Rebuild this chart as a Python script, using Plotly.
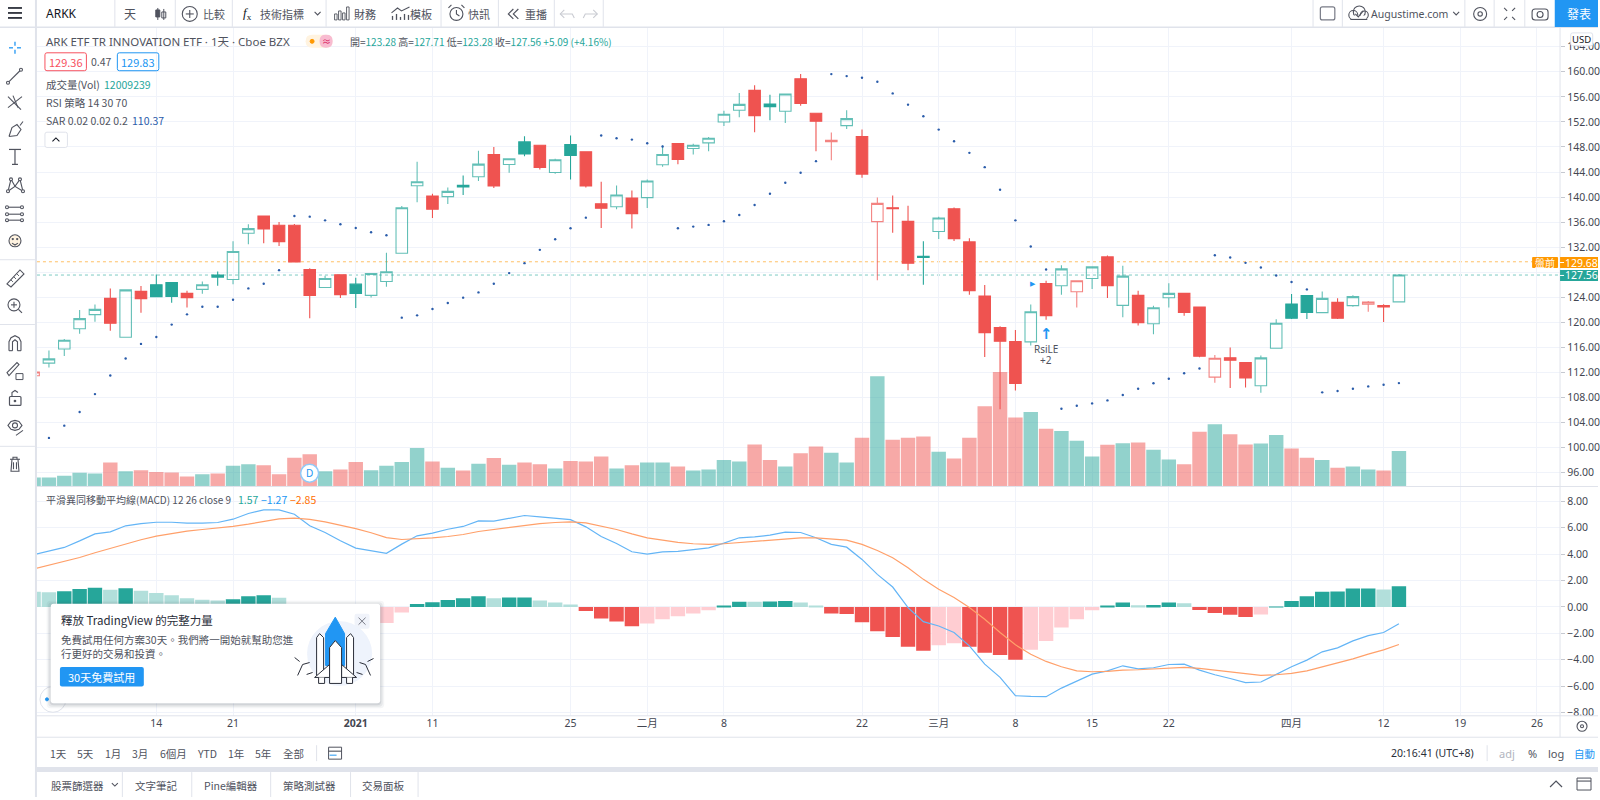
import plotly.graph_objects as go

# values, bar -1 is the clipped one at the left edge
bars = list(range(-1, 89))
opens = [111.5, 113.5, 115.77, 119.0, 121.24, 123.83, 117.63, 124.95, 126.01, 126.38, 124.63, 125.27, 127.55, 126.86, 134.23, 136.98, 135.5, 135.5, 128.45, 125.58,
         127.6, 126.11, 124.31, 126.54, 131.05, 141.81, 140.17, 140.07, 141.87, 143.25, 146.8, 145.21, 148.81, 148.28, 143.93, 148.39, 147.22, 138.95, 138.47, 139.85,
         139.91, 145.16, 148.55, 147.75, 148.65, 151.99, 153.85, 157.03, 154.86, 153.69, 158.89, 153.37, 148.85, 151.41, 149.66, 136.08, 138.31, 136.13, 130.57, 134.5,
         138.15, 132.85, 124.21, 119.17, 116.94, 116.89, 126.22, 125.85, 124.9, 127.02, 130.46, 122.72, 124.31, 119.8, 123.94, 124.63, 122.46, 111.27, 114.35, 113.61,
         109.9, 115.89, 122.94, 124.27, 121.56, 123.2, 122.68, 122.89, 122.68, 123.28]
highs = [112.2, 115.51, 117.37, 122.0, 122.88, 125.43, 125.3, 125.8, 127.65, 126.4, 125.05, 126.54, 128.13, 132.95, 135.66, 137.0, 136.03, 135.71, 128.66, 127.44,
         127.65, 127.12, 127.85, 131.1, 138.57, 145.63, 140.54, 141.55, 143.46, 147.38, 148.0, 146.11, 149.71, 148.3, 146.11, 149.82, 147.25, 142.45, 141.87, 141.07,
         142.82, 148.23, 148.55, 148.5, 149.61, 153.8, 156.61, 157.83, 156.34, 156.45, 159.63, 153.37, 150.3, 153.85, 150.8, 139.95, 140.27, 138.63, 132.95, 136.88,
         138.36, 133.43, 125.96, 119.38, 118.8, 122.88, 126.64, 129.14, 126.64, 128.87, 130.67, 129.03, 125.05, 122.67, 126.27, 124.63, 122.56, 114.82, 116.0, 113.61,
         114.72, 120.5, 124.53, 124.27, 124.95, 123.84, 124.32, 123.42, 122.89, 127.71]
lows = [111.4, 112.8, 114.66, 118.2, 120.12, 118.69, 117.6, 121.55, 124.1, 123.15, 122.4, 124.58, 125.85, 126.1, 132.48, 132.64, 132.21, 129.56, 120.65, 125.48,
        123.89, 122.3, 123.99, 125.69, 131.0, 139.16, 136.67, 138.9, 140.33, 142.56, 141.44, 143.88, 146.53, 144.41, 143.72, 142.82, 141.55, 135.08, 138.05, 134.97,
        138.26, 144.84, 145.26, 146.8, 147.33, 151.36, 152.74, 150.35, 152.26, 151.84, 154.59, 147.33, 145.89, 150.88, 143.08, 126.75, 134.33, 128.34, 126.01, 133.33,
        133.0, 124.42, 114.5, 106.13, 109.15, 116.3, 120.44, 124.42, 122.4, 125.32, 123.89, 120.81, 119.49, 118.11, 122.4, 121.08, 114.45, 110.37, 109.53, 109.63,
        108.78, 115.89, 120.55, 120.55, 121.51, 120.55, 122.52, 121.72, 120.08, 123.28]
closes = [112.1, 114.18, 117.15, 120.6, 122.09, 119.86, 125.2, 123.78, 124.12, 124.15, 123.94, 126.01, 127.23, 131.31, 134.97, 134.92, 132.9, 129.67, 124.31, 127.02,
          124.42, 124.63, 127.81, 128.08, 138.31, 142.45, 138.05, 140.91, 141.6, 145.26, 141.76, 146.11, 146.9, 144.73, 145.95, 146.64, 141.76, 138.21, 140.33, 137.36,
          142.56, 146.8, 146.0, 148.28, 149.4, 153.21, 154.8, 153.0, 154.43, 156.45, 154.96, 152.1, 149.05, 152.52, 143.67, 139.0, 138.15, 129.45, 130.36, 136.67,
          133.38, 125.05, 118.37, 117.0, 110.26, 121.71, 121.08, 128.55, 126.64, 128.87, 125.85, 127.39, 119.96, 122.35, 124.63, 121.61, 114.61, 114.29, 113.98, 111.12,
          114.35, 119.87, 120.66, 121.61, 123.84, 120.66, 124.11, 123.26, 122.46, 127.56]
volumes = [3.0, 3.0, 3.6, 4.6, 4.4, 8.1, 5.1, 5.5, 4.9, 4.7, 3.4, 4.1, 4.4, 7.0, 7.5, 7.2, 4.1, 9.7, 10.9, 5.1,
           5.7, 8.3, 5.5, 7.0, 8.3, 13.0, 8.4, 6.3, 5.4, 7.7, 9.6, 7.3, 8.1, 7.5, 6.1, 8.6, 8.4, 10.1, 6.1, 7.2,
           8.1, 8.1, 6.7, 5.4, 5.7, 8.9, 8.4, 14.2, 8.9, 6.7, 11.2, 13.5, 11.4, 8.1, 16.4, 37.2, 15.8, 16.4, 16.9, 11.7,
           9.4, 16.4, 27.1, 38.6, 23.3, 25.1, 19.5, 18.7, 15.4, 10.1, 14.1, 14.6, 14.8, 12.4, 9.1, 7.5, 18.5, 21.0, 17.6, 14.2,
           14.5, 17.4, 12.8, 9.7, 8.9, 6.3, 6.7, 5.7, 5.4, 12.01]
sar_bars = bars[1:]
sar = [101.57, 103.53, 105.7, 108.56, 111.53, 114.24, 116.57, 117.68, 119.65, 121.29, 122.51, 122.51, 123.62, 125.43, 126.17, 128.34, 136.98, 136.88, 136.29, 135.66,
       135.08, 134.39, 133.91, 120.76, 121.13, 122.14, 123.1, 123.95, 124.79, 126.17, 127.87, 129.46, 131.58, 133.28, 135.03, 136.72, 149.82, 149.4, 149.18, 148.6,
       148.07, 135.03, 135.29, 135.56, 136.14, 137.15, 138.74, 140.54, 142.29, 143.88, 145.74, 159.63, 159.31, 159.05, 158.41, 156.55, 154.75, 152.9, 150.77, 148.91,
       147.06, 144.78, 141.17, 136.29, 132.11, 128.45, 106.23, 106.71, 107.08, 107.56, 108.41, 109.41, 110.3, 111.0, 111.88, 112.65, 130.73, 130.36, 129.51, 128.77,
       127.5, 126.44, 125.27, 108.84, 109.05, 109.42, 109.79, 110.06, 110.32]
macd = [3.95, 4.21, 4.51, 5.01, 5.54, 5.69, 6.15, 6.32, 6.42, 6.42, 6.35, 6.35, 6.4, 6.65, 7.08, 7.36, 7.36, 7.03, 6.15, 5.64,
        5.01, 4.46, 4.26, 4.06, 4.76, 5.39, 5.59, 5.89, 6.1, 6.52, 6.5, 6.7, 6.93, 6.83, 6.73, 6.62, 6.07, 5.34, 4.81, 4.18,
        4.01, 4.18, 4.21, 4.33, 4.48, 4.84, 5.24, 5.31, 5.44, 5.67, 5.64, 5.24, 4.74, 4.53, 3.6, 2.47, 1.51, -0.05, -1.11, -1.44,
        -1.94, -2.95, -4.33, -5.34, -6.73, -6.78, -6.8, -6.15, -5.64, -5.09, -4.84, -4.46, -4.69, -4.61, -4.36, -4.33, -4.79, -5.14, -5.42, -5.74,
        -5.69, -5.09, -4.53, -4.03, -3.4, -3.1, -2.57, -2.17, -1.94, -1.27]
signal = [2.87, 3.15, 3.45, 3.75, 4.11, 4.43, 4.79, 5.09, 5.37, 5.57, 5.74, 5.87, 5.97, 6.1, 6.27, 6.5, 6.68, 6.73, 6.63, 6.45,
          6.2, 5.94, 5.62, 5.26, 5.11, 5.16, 5.24, 5.34, 5.49, 5.72, 5.87, 6.05, 6.22, 6.32, 6.4, 6.45, 6.37, 6.12, 5.87, 5.54,
          5.24, 5.06, 4.89, 4.79, 4.74, 4.79, 4.89, 4.96, 5.06, 5.16, 5.24, 5.24, 5.16, 5.06, 4.74, 4.28, 3.73, 2.97, 2.09, 1.34,
          0.71, -0.05, -0.93, -1.94, -2.87, -3.58, -4.13, -4.53, -4.84, -4.91, -4.89, -4.79, -4.76, -4.71, -4.63, -4.58, -4.66, -4.79, -4.91, -5.06,
          -5.19, -5.14, -5.04, -4.84, -4.53, -4.26, -3.93, -3.58, -3.25, -2.85]
hist = [1.15, 1.11, 1.18, 1.36, 1.46, 1.31, 1.41, 1.23, 1.06, 0.88, 0.65, 0.55, 0.48, 0.58, 0.81, 0.88, 0.7, 0.2, -0.48, -0.81,
        -1.19, -1.48, -1.36, -1.21, -0.43, 0.23, 0.35, 0.53, 0.65, 0.81, 0.65, 0.71, 0.72, 0.48, 0.33, 0.18, -0.3, -0.88, -1.11, -1.46,
        -1.26, -0.93, -0.71, -0.5, -0.25, 0.1, 0.4, 0.39, 0.41, 0.45, 0.33, 0.05, -0.5, -0.53, -1.16, -1.84, -2.27, -3.02, -3.32, -2.9,
        -2.75, -3.02, -3.48, -3.65, -4.01, -3.25, -2.59, -1.56, -0.93, -0.25, 0.08, 0.33, 0.13, 0.14, 0.33, 0.28, -0.23, -0.45, -0.6, -0.76,
        -0.58, 0.03, 0.45, 0.81, 1.16, 1.17, 1.39, 1.4, 1.33, 1.57]
date_ticks = [7, 12, 20, 25, 34, 39, 44, 53, 58, 63, 68, 73, 81, 87, 92, 97]
date_labels = ["14", "21", "<b>2021</b>", "11", "25", "二月", "8", "22", "三月", "8", "15", "22", "四月", "12", "19", "26"]
price_ticks = list(range(96, 168, 4))
# 128.00 sits behind the two price tags in the reference
price_labels = ["" if p == 128 else f"{p}.00" for p in price_ticks]
macd_ticks = list(range(-8, 10, 2))
last_price = 127.56
premarket_price = 129.68

GREEN = "#26a69a"
RED = "#ef5350"
BLUE = "#2196f3"
TEXT = "#50535e"
RULE = "#e0e3eb"
FONT = "Noto Sans, Noto Sans CJK TC, sans-serif"
CJK = "Noto Sans CJK TC, Noto Sans, sans-serif"
HOLLOW_EDGE = {GREEN: "rgba(38,166,154,0.72)", RED: "rgba(239,83,80,0.72)"}

shapes = []
notes = []


def fx(x):
    return x / 1600


def fy(y):
    return 1 - y / 800


def rect(x0, y0, x1, y1, fill=None, line=None, width=1, radius=0):
    pts = (f"M{fx(x0+radius)} {fy(y0)} L{fx(x1-radius)} {fy(y0)} Q{fx(x1)} {fy(y0)} {fx(x1)} {fy(y0+radius)} "
           f"L{fx(x1)} {fy(y1-radius)} Q{fx(x1)} {fy(y1)} {fx(x1-radius)} {fy(y1)} L{fx(x0+radius)} {fy(y1)} "
           f"Q{fx(x0)} {fy(y1)} {fx(x0)} {fy(y1-radius)} L{fx(x0)} {fy(y0+radius)} Q{fx(x0)} {fy(y0)} {fx(x0+radius)} {fy(y0)} Z")
    shapes.append(dict(type="path", path=pts, xref="paper", yref="paper", layer="above",
                       fillcolor=fill or "rgba(0,0,0,0)", line=dict(color=line or "rgba(0,0,0,0)", width=width)))


def stroke(pts, color=TEXT, width=1.1, fill=None, closed=False):
    d = "M" + " L".join(f"{fx(x)} {fy(y)}" for x, y in pts) + (" Z" if closed else "")
    shapes.append(dict(type="path", path=d, xref="paper", yref="paper", layer="above",
                       fillcolor=fill or "rgba(0,0,0,0)", line=dict(color=color, width=width)))


def circle(cx, cy, r, color=TEXT, width=1.1, fill=None):
    shapes.append(dict(type="circle", xref="paper", yref="paper", layer="above",
                       x0=fx(cx - r), x1=fx(cx + r), y0=fy(cy + r), y1=fy(cy - r),
                       fillcolor=fill or "rgba(0,0,0,0)", line=dict(color=color, width=width)))


def label(x, y, text, size=11, color=TEXT, anchor="left", family=CJK):
    notes.append(dict(x=fx(x), y=fy(y), xref="paper", yref="paper", text=text, showarrow=False,
                      xanchor=anchor, yanchor="middle", font=dict(size=size, color=color, family=family),
                      borderpad=0, align=anchor))


def vsep(x, y0, y1):
    stroke([(x, y0), (x, y1)], RULE, 1)


def hsep(x0, x1, y):
    stroke([(x0, y), (x1, y)], RULE, 1)


def candle_trace(idx, color, hollow):
    fill = "rgba(0,0,0,0)" if hollow else color
    edge = HOLLOW_EDGE[color] if hollow else color
    side = dict(line=dict(color=edge, width=1.1), fillcolor=fill)
    return go.Candlestick(x=[bars[i] for i in idx], open=[opens[i] for i in idx], high=[highs[i] for i in idx],
                          low=[lows[i] for i in idx], close=[closes[i] for i in idx], increasing=side, decreasing=side,
                          whiskerwidth=0, xaxis="x", yaxis="y2", showlegend=False, hoverinfo="skip")


# hollow when close > open, colour follows the previous close
groups = {(GREEN, True): [], (RED, True): [], (GREEN, False): [], (RED, False): []}
for i in range(len(bars)):
    up = i > 0 and closes[i] >= closes[i - 1]
    groups[(GREEN if up else RED, closes[i] >= opens[i])].append(i)

vol_colors = ["rgba(38,166,154,0.5)" if c >= o else "rgba(239,83,80,0.5)" for o, c in zip(opens, closes)]
hist_colors = []
for i, v in enumerate(hist):
    rising = i > 0 and v > hist[i - 1]
    if v >= 0:
        hist_colors.append(GREEN if rising else "#b2dfdb")
    else:
        hist_colors.append("#ffcdd2" if rising else RED)

fig = go.Figure()
fig.add_trace(go.Bar(x=bars, y=volumes, width=0.94, marker=dict(color=vol_colors, line_width=0), xaxis="x", yaxis="y",
                     showlegend=False, hoverinfo="skip"))
for (color, hollow), idx in groups.items():
    fig.add_trace(candle_trace(idx, color, hollow))
fig.add_trace(go.Scatter(x=sar_bars, y=sar, mode="markers", marker=dict(size=2.4, color="#2a5caa"), xaxis="x", yaxis="y2",
                         showlegend=False, hoverinfo="skip"))
fig.add_trace(go.Bar(x=bars, y=hist, width=0.94, marker=dict(color=hist_colors, line_width=0), xaxis="x2", yaxis="y3",
                     showlegend=False, hoverinfo="skip"))
fig.add_trace(go.Scatter(x=bars, y=macd, mode="lines", line=dict(color="#64b5f6", width=1.2), xaxis="x2", yaxis="y3",
                         showlegend=False, hoverinfo="skip"))
fig.add_trace(go.Scatter(x=bars, y=signal, mode="lines", line=dict(color="#ffa06a", width=1.2), xaxis="x2", yaxis="y3",
                         showlegend=False, hoverinfo="skip"))

# last price and pre-market lines
for value, color in ((premarket_price, "rgba(255,152,0,0.6)"), (last_price, "rgba(38,166,154,0.6)")):
    shapes.append(dict(type="line", xref="paper", yref="y2", x0=fx(37), x1=fx(1562), y0=value, y1=value, layer="below",
                       line=dict(color=color, width=1, dash="dot")))

# panel frames
rect(35, 0, 37, 800, RULE)
rect(0, 26.5, 1600, 28, RULE)
hsep(37, 1600, 488.3)
hsep(37, 1600, 718.5)
hsep(37, 1600, 740)
rect(37, 770, 1600, 775, RULE)
vsep(1562, 27, 740)

# top toolbar
for x in (115, 175.5, 232.6, 326.5, 441.6, 499, 555, 604, 1314.7, 1344, 1466.7, 1496, 1526.7):
    vsep(x, 0, 27)
for y in (8, 13, 18):
    stroke([(8, y), (22, y)], "#131722", 1.6)
label(45, 14, "ARKK", 12, "#131722", family=FONT)
label(130.6, 14, "天", 12, anchor="center")
stroke([(158, 8), (158, 20)], TEXT, 1)
rect(156, 10, 160, 17, TEXT, TEXT)
stroke([(164, 9), (164, 20)], TEXT, 1)
rect(162, 12, 166, 18, None, TEXT)
circle(190, 14, 7.5)
stroke([(186, 14), (194, 14)])
stroke([(190, 10), (190, 18)])
label(214, 14, "比較", 11, anchor="center")
label(248, 14, "<i>f</i><sub>x</sub>", 13, "#131722", "center", "Liberation Serif")
label(282, 14, "技術指標", 11, anchor="center")
stroke([(315, 12), (318, 15), (321, 12)])
for x, h in ((335, 6), (339, 9), (343, 7), (347, 13)):
    rect(x, 20 - h, x + 2.5, 20, None, TEXT, 0.9)
label(365, 14, "財務", 11, anchor="center")
for x, h in ((393, 4), (397, 6), (401, 3), (405, 6), (409, 5)):
    stroke([(x, 20 - h), (x, 20)], TEXT, 1.3)
stroke([(392, 13), (398, 8), (402, 11), (410, 7)])
label(422, 14, "模板", 11, anchor="center")
circle(457, 14, 6.5)
stroke([(457, 10), (457, 14), (460, 16)])
stroke([(449, 8), (452, 5)])
stroke([(462, 5), (465, 8)])
label(480, 14, "快訊", 11, anchor="center")
stroke([(514, 9), (509, 14), (514, 19)], TEXT, 1.2)
stroke([(519, 9), (514, 14), (519, 19)], TEXT, 1.2)
label(537, 14, "重播", 11, anchor="center")
stroke([(565, 10), (561, 14), (565, 18)], "#c9cbd2")
stroke([(561, 14), (573, 14), (575, 18)], "#c9cbd2")
stroke([(594, 10), (598, 14), (594, 18)], "#c9cbd2")
stroke([(598, 14), (586, 14), (584, 18)], "#c9cbd2")
rect(1322, 7, 1336.5, 20, None, "#787b86", 1.2, 2)
circle(1355, 15, 4.5)
circle(1361, 12, 6)
circle(1366, 15, 4)
rect(1353, 15.5, 1368, 19.5, "#ffffff")
stroke([(1352, 19.5), (1369, 19.5)])
stroke([(1357, 14), (1360, 17), (1365, 11)])
label(1411, 14, "Augustime.com", 10.5, anchor="center", family=FONT)
stroke([(1455, 12), (1458, 15), (1461, 12)])
circle(1482, 14, 6.5)
circle(1482, 14, 2.2)
for x0, y0, x1, y1 in ((1506, 8, 1509, 11), (1517, 8, 1514, 11), (1506, 20, 1509, 17), (1517, 20, 1514, 17)):
    stroke([(x0, y0), (x1, y1)])
rect(1534, 9, 1550, 20, None, TEXT, 1.1, 3)
circle(1542, 14.5, 3)
rect(1556.7, 0, 1600, 27, BLUE)
label(1581, 14, "發表", 12, "#ffffff", "center")

# left drawing rail
stroke([(15, 42), (15, 46)], BLUE, 1.3)
stroke([(15, 50), (15, 54)], BLUE, 1.3)
stroke([(9, 48), (13, 48)], BLUE, 1.3)
stroke([(17, 48), (21, 48)], BLUE, 1.3)
stroke([(8, 83), (21, 70)])
circle(8, 83, 1.5, fill="#ffffff")
circle(21, 70, 1.5, fill="#ffffff")
stroke([(8, 97), (21, 110)])
stroke([(13, 96), (18, 108)])
stroke([(8, 108), (22, 97)])
stroke([(9, 137), (12, 128), (17, 125), (21, 130), (17, 136), (9, 137)])
stroke([(20, 126), (23, 122)])
stroke([(9, 150), (21, 150)], TEXT, 1.2)
stroke([(15, 150), (15, 165)], TEXT, 1.2)
stroke([(12, 165), (18, 165)], TEXT, 1.2)
stroke([(8, 192), (11, 180), (15, 187), (20, 180), (23, 192)])
stroke([(8, 192), (15, 187), (23, 192)])
for x, y in ((8, 192), (11, 180), (20, 180), (23, 192)):
    circle(x, y, 1.5, fill="#ffffff")
for y in (208, 215, 221):
    stroke([(8, y), (22, y)])
    circle(7, y, 1.5, fill="#ffffff")
    circle(22, y, 1.5, fill="#ffffff")
circle(15, 241.7, 6, "#50535e", 1.1, "#fff3e0")
circle(12.8, 240, 0.6)
circle(17.2, 240, 0.6)
stroke([(12, 244), (15, 246), (18, 244)])
hsep(0, 35, 260.7)
stroke([(7, 285), (20, 271), (24, 275), (11, 288)], closed=True)
for x, y in ((11, 281), (14, 278), (17, 275)):
    stroke([(x, y), (x + 2, y + 2)], TEXT, 0.9)
circle(14, 306, 6)
stroke([(18.5, 310.5), (22, 314)])
stroke([(11, 306), (17, 306)])
stroke([(14, 303), (14, 309)])
hsep(0, 35, 325.7)
stroke([(9, 352), (9, 343), (11, 339), (15, 337), (19, 339), (21, 343), (21, 352)])
stroke([(12.5, 352), (12.5, 343), (15, 341), (17.5, 343), (17.5, 352)])
stroke([(9, 352), (12.5, 352)])
stroke([(17.5, 352), (21, 352)])
stroke([(7, 374), (17, 364), (19, 366), (9, 377), (7, 374)], closed=True)
rect(16, 375, 23, 381, None, TEXT)
rect(9.5, 398, 21, 407, None, TEXT, 1.2, 1)
stroke([(12, 398), (12, 394), (15, 392), (18, 394)])
circle(15, 402.5, 0.8, fill=TEXT)
hsep(0, 35, 448)
stroke([(8, 427), (11, 423), (15, 422), (19, 423), (22, 427), (19, 431), (15, 432), (11, 431), (8, 427)], closed=True)
circle(15, 427, 2.5)
stroke([(16, 437), (23, 432)])
stroke([(10, 461), (20, 461)])
stroke([(12, 461), (11, 473), (19, 473), (18, 461)])
stroke([(13, 461), (13, 459), (17, 459), (17, 461)])
stroke([(13.5, 464), (13.5, 471)])
stroke([(16.5, 464), (16.5, 471)])

# price pane legend
label(45, 41.7, "ARK ETF TR INNOVATION ETF · 1天 · Cboe BZX", 11.5, family=FONT)
rect(306, 35, 333, 48, "#fff3e0", None, 1, 6.5)
rect(320, 35, 333, 48, "#f8bbd0", None, 1, 6)
circle(312.5, 41.5, 2, "#ff9800", 1, "#ff9800")
label(326.5, 41.5, "≈", 9, "#d81b60", "center")
notes.append(dict(x=fx(348), y=fy(41.7), xref="paper", yref="paper", showarrow=False, xanchor="left", yanchor="middle",
                  font=dict(size=10, family=CJK, color=GREEN),
                  text=f'<span style="color:{TEXT}">開=</span>123.28 <span style="color:{TEXT}">高=</span>127.71 '
                       f'<span style="color:{TEXT}">低=</span>123.28 <span style="color:{TEXT}">收=</span>127.56 +5.09 (+4.16%)'))
rect(45, 53, 86.5, 71, None, "#f7525f", 1, 2)
label(65.7, 62, "129.36", 11, "#f7525f", "center")
label(102, 62, "0.47", 10.5, TEXT, "center")
rect(117.5, 53, 159, 71, None, BLUE, 1, 2)
label(138.2, 62, "129.83", 11, BLUE, "center")
label(45, 85, "成交量(Vol)", 10.5)
label(103, 85, "12009239", 10.5, GREEN)
label(45, 102.7, "RSI 策略 14 30 70", 10.5)
label(45, 120.7, "SAR 0.02 0.02 0.2", 10.5)
label(131, 120.7, "110.37", 10.5, "#2a5caa")
rect(45, 132.7, 67.5, 148, "#ffffff", RULE, 1, 2)
stroke([(52.5, 142), (56, 138.5), (59.5, 142)], "#131722", 1.1)
label(45, 501, "平滑異同移動平均線(MACD) 12 26 close 9", 10)
label(237, 501, "1.57", 10.5, GREEN)
label(260, 501, "−1.27", 10.5, BLUE)
label(289, 501, "−2.85", 10.5, "#ff6d00")
rect(1572.7, 33, 1594.7, 46, "#ffffff", RULE, 1, 2)
label(1583.7, 39.5, "USD", 9.5, "#131722", "center", FONT)

# price tags on the axis
rect(1534, 258, 1560, 269, "#ff9800", None, 1, 1)
label(1547, 263.5, "盤前", 10, "#ffffff", "center")
rect(1562, 258, 1600, 269, "#ff9800")
label(1583, 263.5, "129.68", 10.5, "#ffffff", "center", FONT)
rect(1562, 271, 1600, 282, GREEN)
label(1583, 276.5, "127.56", 10.5, "#ffffff", "center", FONT)
stroke([(1562, 263.5), (1566, 263.5)], "#ffffff", 1)
stroke([(1562, 276.5), (1566, 276.5)], "#ffffff", 1)

# strategy marker
notes.append(dict(x=65, y=118.2, xref="x", yref="y2", text="<b>↑</b>", showarrow=False,
                  font=dict(size=15, color=BLUE, family="DejaVu Sans")))
notes.append(dict(x=64.15, y=126.1, xref="x", yref="y2", text="▶", showarrow=False, font=dict(size=7, color=BLUE, family="DejaVu Sans")))
notes.append(dict(x=65, y=115.7, xref="x", yref="y2", text="RsiLE", showarrow=False, font=dict(size=10, color=TEXT, family=FONT)))
notes.append(dict(x=65, y=114.0, xref="x", yref="y2", text="+2", showarrow=False, font=dict(size=10, color=TEXT, family=FONT)))

# dividend marker
circle(310, 475, 9, "#90caf9", 1.5, "#ffffff")
label(310, 475, "D", 10, BLUE, "center", FONT)

# promo card
circle(53, 702, 13, RULE, 1, "#ffffff")
circle(47, 702, 1.5, BLUE, 1, BLUE)
for pad, alpha in ((4, 0.05), (2.5, 0.07), (1, 0.1)):
    rect(50.7 - pad, 606 - pad + 1, 380.7 + pad, 706 + pad + 1, f"rgba(40,50,70,{alpha})", None, 1, 4)
rect(50.7, 606, 380.7, 706, "#ffffff", None, 1, 3)
label(60, 622.7, "釋放 TradingView 的完整力量", 11.5, "#2a2e39")
label(60, 641.7, "免費試用任何方案30天。我們將一開始就幫助您進", 10.5)
label(60, 656, "行更好的交易和投資。", 10.5)
rect(60, 669.5, 144, 689, BLUE, None, 1, 2)
label(102, 679.5, "30天免費試用", 11, "#ffffff", "center")
rect(355, 616, 370, 631, "#f0f3fa", None, 1, 2)
stroke([(359, 620), (366, 627)], "#787b86", 1)
stroke([(366, 620), (359, 627)], "#787b86", 1)
circle(340, 656, 32, "#eef3fc", 1, "#eef3fc")
stroke([(326, 636), (335.7, 619.5), (345, 636), (345, 668), (326, 668)], BLUE, 1, BLUE, True)
stroke([(317, 678), (317, 640), (320, 636), (324, 640), (324, 678)], "#2a2e39", 1, "#ffffff", True)
stroke([(347, 678), (347, 640), (351, 636), (354, 640), (354, 678)], "#2a2e39", 1, "#ffffff", True)
stroke([(315, 680), (330, 667), (330, 680)], "#2a2e39", 1, "#ffffff", True)
stroke([(357, 680), (342, 667), (342, 680)], "#2a2e39", 1, "#ffffff", True)
stroke([(330, 686), (330, 650), (335.7, 643), (342, 650), (342, 686)], "#2a2e39", 1, "#ffffff", True)
stroke([(319, 680), (319, 686), (325, 686), (325, 680)], "#2a2e39", 1, "#ffffff")
stroke([(347, 680), (347, 686), (353, 686), (353, 680)], "#2a2e39", 1, "#ffffff")
for x0, y0, x1, y1 in ((298, 678, 303, 667), (303, 667, 310, 665), (307, 677, 313, 675), (371, 678, 366, 667),
                       (366, 667, 360, 665), (363, 677, 357, 675), (368, 664, 374, 661), (300, 664, 295, 660)):
    stroke([(x0, y0), (x1, y1)], "#2a2e39", 1)

# bottom bars
for x, text in ((59, "1天"), (86, "5天"), (113, "1月"), (140, "3月"), (173.6, "6個月"), (207.5, "YTD"), (236, "1年"), (263, "5年"), (293.6, "全部")):
    label(x, 756, text, 10.5, TEXT, "center")
vsep(317, 748, 764)
rect(329, 750, 342, 762, None, TEXT)
stroke([(329, 754), (342, 754)])
stroke([(330, 758), (337, 758)], BLUE, 1)
label(1434, 756, "20:16:41 (UTC+8)", 10.5, "#2a2e39", "center", FONT)
vsep(1489, 748, 764)
label(1509, 756, "adj", 11, "#b2b5be", "center", FONT)
label(1534, 756, "%", 11, TEXT, "center", FONT)
label(1557.6, 756, "log", 11, TEXT, "center", FONT)
label(1586.6, 756, "自動", 10.5, BLUE, "center")
circle(1584, 729, 5)
circle(1584, 729, 1.5)
for x, text in ((78, "股票篩選器"), (157, "文字筆記"), (231, "Pine編輯器"), (310, "策略測試器"), (384, "交易面板")):
    label(x, 788, text, 10.5, TEXT, "center")
stroke([(112, 786), (115, 789), (118, 786)])
for x in (122.5, 192, 271, 351, 418.6):
    vsep(x, 775, 800)
stroke([(1552, 790), (1558, 784), (1564, 790)], TEXT, 1.2)
rect(1579, 781, 1593, 793, None, TEXT)
stroke([(1579, 784), (1593, 784)])

axis_range = [(37 - 49) / 15.36, (1562 - 49) / 15.36]
axis_font = dict(size=10.5, color="#434651", family=FONT)
fig.update_layout(
    width=1600,
    height=800,
    margin=dict(l=0, r=0, t=0, b=0),
    paper_bgcolor="#ffffff",
    plot_bgcolor="#ffffff",
    barmode="overlay",
    boxgap=0.25,
    boxgroupgap=0,
    showlegend=False,
    shapes=shapes,
    annotations=notes,
    xaxis=dict(domain=[fx(37), fx(1562)], range=axis_range, tickvals=date_ticks, showticklabels=False, ticks="",
               gridcolor="#f0f3fa", zeroline=False, rangeslider=dict(visible=False), anchor="y"),
    yaxis=dict(domain=[fy(488.3), fy(27.7)], range=[0, 154.85], visible=False, fixedrange=True),
    yaxis2=dict(domain=[fy(488.3), fy(27.7)], range=[93.82, 167.05], overlaying="y", side="right", anchor="x",
                tickvals=price_ticks, ticktext=price_labels, ticks="outside", ticklen=4, tickcolor="#c5c8d0", tickfont=axis_font,
                gridcolor="#f0f3fa", zeroline=False),
    xaxis2=dict(domain=[fx(37), fx(1562)], range=axis_range, tickvals=date_ticks, ticktext=date_labels, ticks="", tickfont=axis_font,
                gridcolor="#f0f3fa", zeroline=False, anchor="y3"),
    yaxis3=dict(domain=[fy(718.5), fy(488.3)], range=[-8.25, 9.13], side="right", anchor="x2", tickvals=macd_ticks, tickformat=".2f",
                ticks="outside", ticklen=4, tickcolor="#c5c8d0", tickfont=axis_font, gridcolor="#f0f3fa", zeroline=False),
)

fig.write_html("out.html", config=dict(displayModeBar=False), post_script="document.body.style.margin='0'")
